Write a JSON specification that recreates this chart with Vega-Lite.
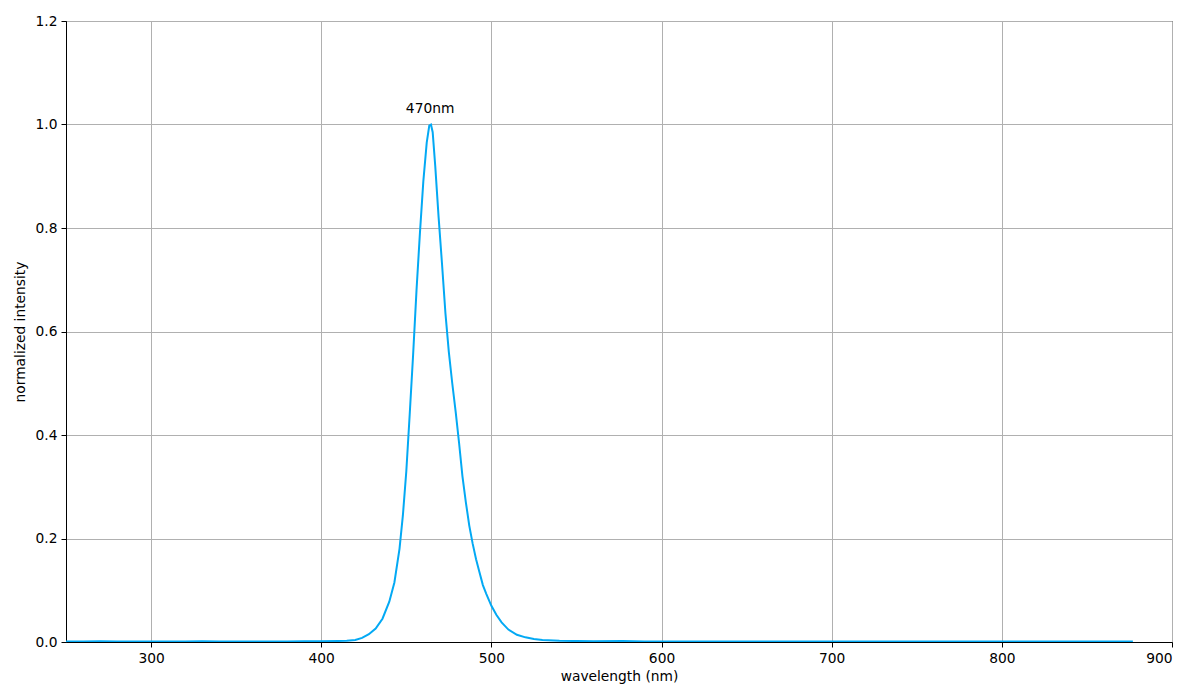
{
  "$schema": "https://vega.github.io/schema/vega-lite/v6.json",
  "width": 1106,
  "height": 621,
  "autosize": {"type": "none"},
  "padding": {"left": 66, "top": 21, "right": 28, "bottom": 58},
  "background": "white",
  "config": {
    "font": "DejaVu Sans",
    "view": {"stroke": "black", "strokeWidth": 1},
    "axis": {
      "labelFont": "DejaVu Sans", "labelFontSize": 13.8, "labelColor": "black",
      "titleFont": "DejaVu Sans", "titleFontSize": 13.8, "titleFontWeight": "normal", "titleColor": "black",
      "domainColor": "black", "tickColor": "black", "tickSize": 5,
      "gridColor": "#b0b0b0", "gridWidth": 1, "gridOpacity": 1, "labelPadding": 4
    }
  },
  "datasets": {
    "spectrum": [
      {"wl": 250, "v": 0.001}, {"wl": 260, "v": 0.001}, {"wl": 270, "v": 0.0015}, {"wl": 280, "v": 0.001},
      {"wl": 290, "v": 0.001}, {"wl": 300, "v": 0.0012}, {"wl": 310, "v": 0.001}, {"wl": 320, "v": 0.0008},
      {"wl": 330, "v": 0.0015}, {"wl": 340, "v": 0.001}, {"wl": 350, "v": 0.001}, {"wl": 360, "v": 0.0012},
      {"wl": 370, "v": 0.001}, {"wl": 380, "v": 0.0012}, {"wl": 390, "v": 0.0013}, {"wl": 400, "v": 0.0015},
      {"wl": 410, "v": 0.002}, {"wl": 415, "v": 0.0025}, {"wl": 420, "v": 0.004}, {"wl": 424, "v": 0.008},
      {"wl": 428, "v": 0.015}, {"wl": 432, "v": 0.026}, {"wl": 436, "v": 0.045}, {"wl": 440, "v": 0.078},
      {"wl": 443, "v": 0.115}, {"wl": 446, "v": 0.18}, {"wl": 448, "v": 0.245}, {"wl": 450, "v": 0.33},
      {"wl": 452, "v": 0.44}, {"wl": 454, "v": 0.555}, {"wl": 456, "v": 0.68}, {"wl": 458, "v": 0.79},
      {"wl": 460, "v": 0.89}, {"wl": 462, "v": 0.965}, {"wl": 463.5, "v": 0.998}, {"wl": 464.5, "v": 1.0},
      {"wl": 465.5, "v": 0.985}, {"wl": 467, "v": 0.92}, {"wl": 469, "v": 0.82}, {"wl": 471, "v": 0.73},
      {"wl": 473, "v": 0.635}, {"wl": 475, "v": 0.56}, {"wl": 477, "v": 0.5}, {"wl": 479, "v": 0.445},
      {"wl": 481, "v": 0.385}, {"wl": 483, "v": 0.32}, {"wl": 485, "v": 0.27}, {"wl": 487, "v": 0.225},
      {"wl": 489, "v": 0.19}, {"wl": 491, "v": 0.16}, {"wl": 493, "v": 0.135}, {"wl": 495, "v": 0.11},
      {"wl": 497, "v": 0.093}, {"wl": 500, "v": 0.07}, {"wl": 503, "v": 0.052}, {"wl": 506, "v": 0.038},
      {"wl": 510, "v": 0.024}, {"wl": 515, "v": 0.014}, {"wl": 520, "v": 0.009}, {"wl": 525, "v": 0.006},
      {"wl": 530, "v": 0.004}, {"wl": 540, "v": 0.0025}, {"wl": 550, "v": 0.0018}, {"wl": 560, "v": 0.0015},
      {"wl": 577, "v": 0.002}, {"wl": 590, "v": 0.0012}, {"wl": 610, "v": 0.001}, {"wl": 630, "v": 0.0012},
      {"wl": 650, "v": 0.001}, {"wl": 680, "v": 0.0012}, {"wl": 710, "v": 0.001}, {"wl": 740, "v": 0.0011},
      {"wl": 770, "v": 0.001}, {"wl": 800, "v": 0.0012}, {"wl": 830, "v": 0.001}, {"wl": 860, "v": 0.001},
      {"wl": 877, "v": 0.001}
    ],
    "labels": [{"wl": 464, "v": 1.03, "text": "470nm"}]
  },
  "layer": [
    {
      "data": {"name": "spectrum"},
      "mark": {"type": "line", "color": "#03a9f4", "strokeWidth": 2, "clip": true},
      "encoding": {
        "x": {"field": "wl", "type": "quantitative",
              "scale": {"domain": [250, 900], "nice": false, "zero": false},
              "axis": {"title": "wavelength (nm)", "values": [300, 400, 500, 600, 700, 800, 900], "titlePadding": 5}},
        "y": {"field": "v", "type": "quantitative",
              "scale": {"domain": [0, 1.2], "nice": false},
              "axis": {"title": "normalized intensity", "values": [0, 0.2, 0.4, 0.6, 0.8, 1.0, 1.2], "format": ".1f", "titlePadding": 8}}
      }
    },
    {
      "data": {"name": "labels"},
      "mark": {"type": "text", "fontSize": 13.8, "font": "DejaVu Sans", "color": "black", "baseline": "middle", "align": "center"},
      "encoding": {
        "x": {"field": "wl", "type": "quantitative"},
        "y": {"field": "v", "type": "quantitative"},
        "text": {"field": "text"}
      }
    }
  ]
}
